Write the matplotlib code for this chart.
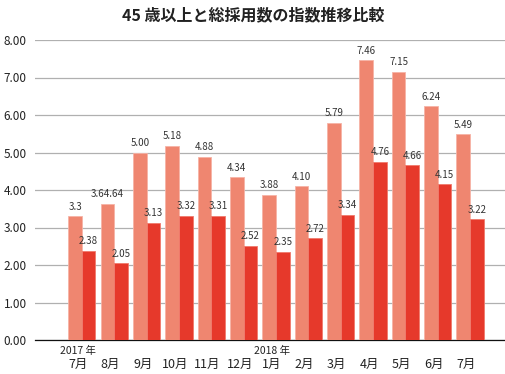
import matplotlib
matplotlib.use("Agg")
import matplotlib.pyplot as plt
import matplotlib.transforms as mtransforms
import numpy as np

plt.rcParams['font.family'] = ['Noto Sans CJK JP', 'DejaVu Sans']

title = "45 歳以上と総採用数の指数推移比較"
months = ["7月", "8月", "9月", "10月", "11月", "12月", "1月", "2月", "3月", "4月", "5月", "6月", "7月"]
years = {0: "2017 年", 6: "2018 年"}
series_total = [3.3, 3.64, 5.00, 5.18, 4.88, 4.34, 3.88, 4.10, 5.79, 7.46, 7.15, 6.24, 5.49]
labels_total = ["3.3", "3.64.64", "5.00", "5.18", "4.88", "4.34", "3.88", "4.10", "5.79", "7.46", "7.15", "6.24", "5.49"]
series_45 = [2.38, 2.05, 3.13, 3.32, 3.31, 2.52, 2.35, 2.72, 3.34, 4.76, 4.66, 4.15, 3.22]
labels_45 = ["2.38", "2.05", "3.13", "3.32", "3.31", "2.52", "2.35", "2.72", "3.34", "4.76", "4.66", "4.15", "3.22"]
yticks = [0, 1, 2, 3, 4, 5, 6, 7, 8]

fig = plt.figure(figsize=(5.06, 3.74), dpi=100)
ax = fig.add_axes([35/506, 34/374, 470/506, 300/374])

x = np.arange(len(months))
w = 0.42
c_light = "#EF8670"
c_dark = "#E6392B"
ax.bar(x - w/2, series_total, w, color=c_light, edgecolor="#F6B3A6", linewidth=0.6, zorder=3)
ax.bar(x + w/2, series_45, w, color=c_dark, edgecolor="#F07A6C", linewidth=0.6, zorder=3)

for xi, v, s in zip(x, series_total, labels_total):
    ax.text(xi - w/2, v + 0.12, s, ha="center", va="bottom", fontsize=7, color="#333333")
for xi, v, s in zip(x, series_45, labels_45):
    ax.text(xi + w/2, v + 0.12, s, ha="center", va="bottom", fontsize=7, color="#333333")

ax.set_ylim(0, 8)
ax.set_xlim(-1.45, 13.08)
ax.set_yticks(yticks)
ax.set_yticklabels([f"{t:.2f}" for t in yticks], fontsize=8.5, color="#222222")
ax.tick_params(axis='y', length=0, pad=6)
ax.set_xticks([])
ax.yaxis.grid(True, color="#B0B0B0", linewidth=0.9, zorder=0)
ax.set_axisbelow(True)
for sp in ["top", "right", "left"]:
    ax.spines[sp].set_visible(False)
ax.spines["bottom"].set_color("#111111")
ax.spines["bottom"].set_linewidth(0.9)

trans = mtransforms.blended_transform_factory(ax.transData, fig.transFigure)
for xi, m in zip(x, months):
    ax.text(xi - 0.12, 1 - 364/374, m, transform=trans, ha="center", va="center", fontsize=9, color="#222222")
for xi, yv in years.items():
    ax.text(xi - 0.12, 1 - 351/374, yv, transform=trans, ha="center", va="center", fontsize=7.5, color="#222222")

fig.text(0.5, 1 - 15/374, title, ha="center", va="center", fontsize=11.5, fontweight="bold", color="#222222")

fig.savefig("out.png", dpi=100)
